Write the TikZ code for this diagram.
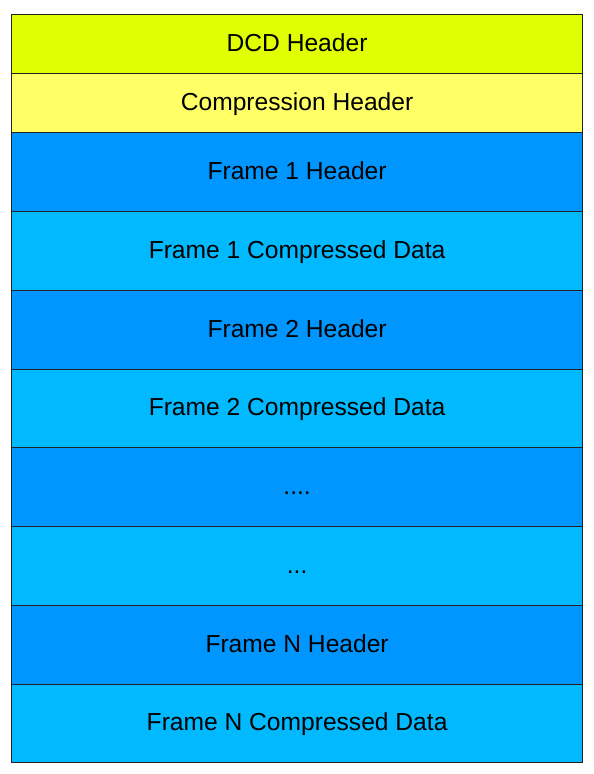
\documentclass[tikz,border=0pt]{standalone}
\usepackage{fontspec}
\setmainfont{Liberation Sans}
\definecolor{dcdcol}{HTML}{E0FF00}
\definecolor{compcol}{HTML}{FFFF66}
\definecolor{hdrcol}{HTML}{0096FF}
\definecolor{datcol}{HTML}{00B9FF}
\definecolor{edgecol}{HTML}{222222}
\tikzset{
  cell/.style={draw=edgecol, line width=1.2pt, minimum width=571pt, inner sep=0pt, anchor=north west,
    text height=18pt, text depth=4pt,
    font=\fontsize{24.6}{29}\selectfont, text=black},
}
\begin{document}
\begin{tikzpicture}[x=1pt,y=-1pt]
\useasboundingbox (0,0) rectangle (594,774);
\node[cell, fill=dcdcol, minimum height=59pt] (dcd) at (11,14) {DCD Header};
\node[cell, fill=compcol, minimum height=59pt] (comp) at (11,73) {Compression Header};
\node[cell, fill=hdrcol, minimum height=79pt] (f1h) at (11,132) {Frame 1 Header};
\node[cell, fill=datcol, minimum height=79pt] (f1d) at (11,211) {Frame 1 Compressed Data};
\node[cell, fill=hdrcol, minimum height=79pt] (f2h) at (11,290) {Frame 2 Header};
\node[cell, fill=datcol, minimum height=78pt] (f2d) at (11,369) {Frame 2 Compressed Data};
\node[cell, fill=hdrcol, minimum height=79pt] (e1) at (11,447) {....};
\node[cell, fill=datcol, minimum height=79pt] (e2) at (11,526) {...};
\node[cell, fill=hdrcol, minimum height=79pt] (fnh) at (11,605) {Frame N Header};
\node[cell, fill=datcol, minimum height=78pt] (fnd) at (11,684) {Frame N Compressed Data};
\end{tikzpicture}
\end{document}
